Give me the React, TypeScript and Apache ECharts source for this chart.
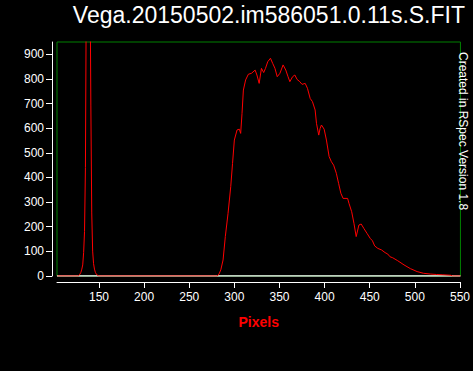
import React, { useEffect, useRef } from "react";
import * as echarts from "echarts";

const TITLE = "Vega.20150502.im586051.0.11s.S.FIT";
const SIDE_NOTE = "Created in RSpec Version 1.8";
const X_NAME = "Pixels";

const X_MIN = 103.5;
const X_MAX = 550.5;
const Y_MIN = 0;
const Y_MAX = 950;

const xTickValues = [150, 200, 250, 300, 350, 400, 450, 500, 550];
const yTickValues = [0, 100, 200, 300, 400, 500, 600, 700, 800, 900];

// pixel positions and intensities
const pixels = [
  104, 127, 128, 129, 130, 131, 132, 133, 134, 135, 136, 137, 138, 139, 140,
  141, 142, 143, 144, 145, 146, 147, 148, 149, 150, 281, 283, 285, 287.5, 290,
  293, 296, 298, 300, 303, 305.5, 307, 308.5, 310, 312.5, 315.5, 319, 323, 325,
  327.5, 330, 332.5, 334.5, 337, 340, 342.5, 345, 347.5, 350.5, 354, 357, 359.5,
  361.5, 364.5, 367, 369.5, 372.5, 375, 378.5, 381, 384, 386.5, 389.5, 391,
  393.5, 395, 396.5, 399.5, 402, 405, 407.5, 410, 413, 415.5, 418, 420.5, 425.5,
  427, 430, 432.5, 435, 438, 440.5, 443.5, 447, 450.5, 453, 455.5, 459, 463,
  467, 470, 472.5, 475.5, 481, 488, 495, 502.5, 509.5, 517, 524, 531, 540,
  541.5, 550.5,
];
const counts = [
  0, 0, 3, 8, 15, 28, 45, 95, 180, 440, 1200, 2000, 2400, 2200, 1300,
  694, 256, 101, 50, 28, 15, 8, 4, 1, 0, 0, 8, 25, 65, 160,
  254, 363, 457, 552, 593, 596, 579, 660, 755, 796, 819, 823, 836, 816,
  782, 843, 826, 843, 870, 884, 863, 843, 809, 823, 857, 836, 809,
  789, 809, 816, 798, 789, 778, 782, 762, 721, 708, 674, 620,
  572, 599, 613, 596, 552, 485, 464, 450, 417, 376, 336, 315, 315,
  295, 261, 214, 160, 207, 211, 193, 173, 153, 143, 122, 112, 106,
  95, 89, 78, 74, 62, 45, 30, 18, 11, 8, 6, 5, 3,
  0, 0,
];

const FONT = "'Liberation Sans', Arial, sans-serif";

export default function App() {
  const ref = useRef<HTMLDivElement>(null);
  useEffect(() => {
    if (!ref.current) return;
    const chart = echarts.init(ref.current, null, { renderer: "svg" });
    const spectrum = pixels.map((p, i) => [p, counts[i]]);
    chart.setOption({
      animation: false,
      backgroundColor: "#000000",
      grid: {
        left: 57,
        top: 42,
        right: 2,
        bottom: 95,
        show: true,
        borderColor: "#008000",
        borderWidth: 1,
      },
      xAxis: {
        type: "value",
        min: X_MIN,
        max: X_MAX,
        offset: 6,
        name: X_NAME,
        nameLocation: "middle",
        nameGap: 33,
        nameTextStyle: {
          color: "#ff0000",
          fontWeight: "bold",
          fontSize: 14,
          fontFamily: FONT,
        },
        axisLine: { show: true, onZero: false, lineStyle: { color: "#ffffff", width: 1 } },
        axisTick: {
          show: true,
          length: 6,
          customValues: xTickValues,
          lineStyle: { color: "#ffffff" },
        },
        axisLabel: {
          customValues: xTickValues,
          color: "#ffffff",
          fontSize: 12,
          fontFamily: FONT,
          margin: 9,
          hideOverlap: false,
        },
        splitLine: { show: false },
      },
      yAxis: {
        type: "value",
        min: Y_MIN,
        max: Y_MAX,
        offset: 5,
        axisLine: { show: true, lineStyle: { color: "#ffffff", width: 1 } },
        axisTick: {
          show: true,
          length: 6,
          customValues: yTickValues,
          lineStyle: { color: "#ffffff" },
        },
        axisLabel: {
          customValues: yTickValues,
          color: "#ffffff",
          fontSize: 12,
          fontFamily: FONT,
          margin: 8,
        },
        splitLine: { show: false },
      },
      graphic: [
        {
          type: "text",
          x: 465,
          y: 3,
          style: {
            text: TITLE,
            fill: "#ffffff",
            font: `23px ${FONT}`,
            align: "right",
            verticalAlign: "top",
          },
        },
        {
          type: "text",
          x: 463,
          y: 52,
          rotation: -Math.PI / 2,
          style: {
            text: SIDE_NOTE,
            fill: "#ffffff",
            font: `12px ${FONT}`,
            align: "left",
            verticalAlign: "middle",
          },
        },
      ],
      series: [
        {
          name: "zero",
          type: "line",
          data: [
            [X_MIN, 0],
            [X_MAX, 0],
          ],
          symbol: "none",
          silent: true,
          lineStyle: { color: "#ffffff", width: 1.5 },
          z: 2,
        },
        {
          name: "spectrum",
          type: "line",
          data: spectrum,
          symbol: "none",
          clip: true,
          lineStyle: { color: "#ff0000", width: 1 },
          z: 3,
        },
      ],
    });
    return () => chart.dispose();
  }, []);
  return (
    <div
      ref={ref}
      style={{ position: "fixed", left: 0, top: 0, width: 473, height: 371 }}
    />
  );
}
